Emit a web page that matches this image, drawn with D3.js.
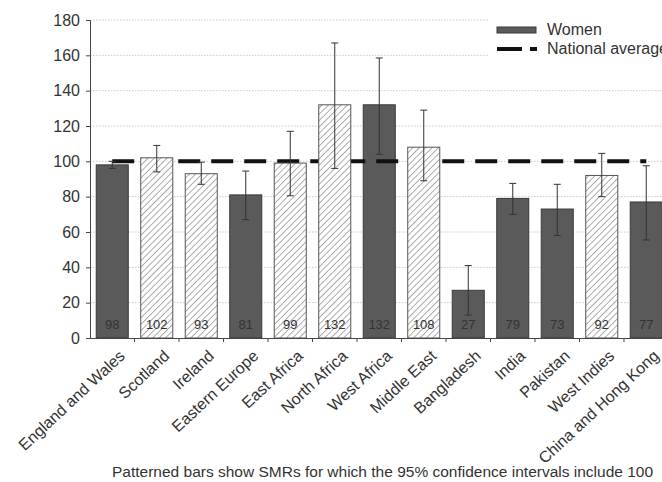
<!doctype html>
<html>
  <head>
    <meta charset="utf-8">
    <script src="https://d3js.org/d3.v7.min.js"></script>
    <style>
      body { margin: 0; background: #fff; }
      text { font-family: "Liberation Sans", Arial, sans-serif; fill: #333; }
    </style>
  </head>
  <body>
    <svg id="chart" width="662" height="482"></svg>
  <script>
    // regions of birth, SMR for women, 95% CI
    var regions = ["England and Wales", "Scotland", "Ireland", "Eastern Europe", "East Africa",
      "North Africa", "West Africa", "Middle East", "Bangladesh", "India", "Pakistan",
      "West Indies", "China and Hong Kong"];
    var smr = [98, 102, 93, 81, 99, 132, 132, 108, 27, 79, 73, 92, 77];
    var ciLow = [96, 94, 87, 67, 80.5, 96, 104, 89, 13, 70, 58, 80, 55.5];
    var ciHigh = [100, 109, 99.5, 94.5, 117, 167, 158.5, 129, 41, 87.5, 87, 104.5, 97.5];
    // patterned = 95% CI includes 100 (as marked in the source figure)
    var patterned = [false, true, true, false, true, true, false, true, false, false, false, true, false];
    var yTicks = [0, 20, 40, 60, 80, 100, 120, 140, 160, 180];
    var nationalAverage = 100;

    var svg = d3.select("#chart");

    var x = d3.scaleBand().domain(regions).range([90, 668.5]).paddingInner(0.28).paddingOuter(0.14);
    var y = d3.scaleLinear().domain([0, 180]).range([338, 20]);

    /* hatch pattern */
    var defs = svg.append("defs");
    var pat = defs.append("pattern")
      .attr("id", "hatch")
      .attr("patternUnits", "userSpaceOnUse")
      .attr("width", 4.5).attr("height", 4.5)
      .attr("patternTransform", "rotate(45)");
    pat.append("rect").attr("width", 4.5).attr("height", 4.5).attr("fill", "#fff");
    pat.append("line").attr("x1", 0).attr("y1", 0).attr("x2", 0).attr("y2", 4.5)
      .attr("stroke", "#6a6a6a").attr("stroke-width", 1.1);

    var data = regions.map(function(r, i) {
      return { name: r, v: smr[i], lo: ciLow[i], hi: ciHigh[i], patterned: patterned[i] };
    });

    /* gridlines */
    svg.append("g").selectAll("line").data(yTicks.slice(1)).enter().append("line")
      .attr("x1", 90).attr("x2", 662)
      .attr("y1", function(d) { return y(d); }).attr("y2", function(d) { return y(d); })
      .attr("stroke", "#c8c8c8").attr("stroke-dasharray", "1.5,1.5");

    /* y axis */
    var yAxis = svg.append("g").attr("transform", "translate(90,0)")
      .call(d3.axisLeft(y).tickValues(yTicks).tickSize(4).tickPadding(6));
    yAxis.select(".domain").attr("stroke", "#444");
    yAxis.selectAll(".tick line").attr("stroke", "#444");
    yAxis.selectAll("text").style("font-size", "16px").attr("fill", "#333");

    function drawBars(sel) {
      sel.enter().append("rect")
        .attr("x", function(d) { return x(d.name); })
        .attr("y", function(d) { return y(d.v); })
        .attr("width", x.bandwidth())
        .attr("height", function(d) { return y(0) - y(d.v); })
        .attr("fill", function(d) { return d.patterned ? "url(#hatch)" : "#5a5a5a"; })
        .attr("stroke", function(d) { return d.patterned ? "#555" : "#3a3a3a"; })
        .attr("stroke-width", 1);
    }

    /* solid bars first, then national line, then patterned bars */
    svg.append("g").selectAll("rect").data(data.filter(function(d) { return !d.patterned; })).call(drawBars);

    svg.append("line")
      .attr("x1", x(regions[0]) + x.bandwidth() / 2)
      .attr("x2", x(regions[regions.length - 1]) + x.bandwidth() / 2)
      .attr("y1", y(nationalAverage)).attr("y2", y(nationalAverage))
      .attr("stroke", "#111").attr("stroke-width", 4).attr("stroke-dasharray", "22,11");

    svg.append("g").selectAll("rect").data(data.filter(function(d) { return d.patterned; })).call(drawBars);

    /* x axis */
    var xAxis = svg.append("g").attr("transform", "translate(0,338)")
      .call(d3.axisBottom(x).tickSize(0).tickFormat(""));
    xAxis.select(".domain").attr("stroke", "#444");
    // boundary ticks between bands
    svg.append("g").selectAll("line").data(regions.slice(1)).enter().append("line")
      .attr("x1", function(d) { return x(d) - x.step() * x.paddingInner() / 2; })
      .attr("x2", function(d) { return x(d) - x.step() * x.paddingInner() / 2; })
      .attr("y1", 338).attr("y2", 342).attr("stroke", "#444");

    svg.append("g").selectAll("text").data(regions).enter().append("text")
      .attr("transform", function(d) {
        return "translate(" + (x(d) + x.bandwidth() / 2 + 6) + ",349) rotate(-43)";
      })
      .attr("text-anchor", "end")
      .attr("dy", "0.7em")
      .style("font-size", "16px")
      .text(function(d) { return d; });

    /* error bars */
    var eb = svg.append("g").attr("stroke", "#333").attr("stroke-width", 1);
    data.forEach(function(d) {
      var cx = x(d.name) + x.bandwidth() / 2;
      eb.append("line").attr("x1", cx).attr("x2", cx).attr("y1", y(d.lo)).attr("y2", y(d.hi));
      eb.append("line").attr("x1", cx - 3.5).attr("x2", cx + 3.5).attr("y1", y(d.lo)).attr("y2", y(d.lo));
      eb.append("line").attr("x1", cx - 3.5).attr("x2", cx + 3.5).attr("y1", y(d.hi)).attr("y2", y(d.hi));
    });

    /* value labels */
    svg.append("g").selectAll("text").data(data).enter().append("text")
      .attr("x", function(d) { return x(d.name) + x.bandwidth() / 2; })
      .attr("y", 329)
      .attr("text-anchor", "middle")
      .style("font-size", "13px")
      .attr("fill", "#333")
      .text(function(d) { return d.v; });

    /* legend */
    var lg = svg.append("g");
    lg.append("rect").attr("x", 488).attr("y", 12).attr("width", 180).attr("height", 52).attr("fill", "#fff");
    lg.append("rect").attr("x", 497).attr("y", 27).attr("width", 39).attr("height", 6)
      .attr("fill", "#5a5a5a").attr("stroke", "#3a3a3a");
    lg.append("text").attr("x", 547).attr("y", 35).style("font-size", "16px").text("Women");
    lg.append("line").attr("x1", 497).attr("x2", 537).attr("y1", 49).attr("y2", 49)
      .attr("stroke", "#111").attr("stroke-width", 4).attr("stroke-dasharray", "25,8");
    lg.append("text").attr("x", 547).attr("y", 54).style("font-size", "16px").text("National average");

    /* caption */
    svg.append("text").attr("x", 112).attr("y", 477)
      .style("font-size", "15.5px")
      .text("Patterned bars show SMRs for which the 95% confidence intervals include 100");
  </script>
  </body>
</html>
